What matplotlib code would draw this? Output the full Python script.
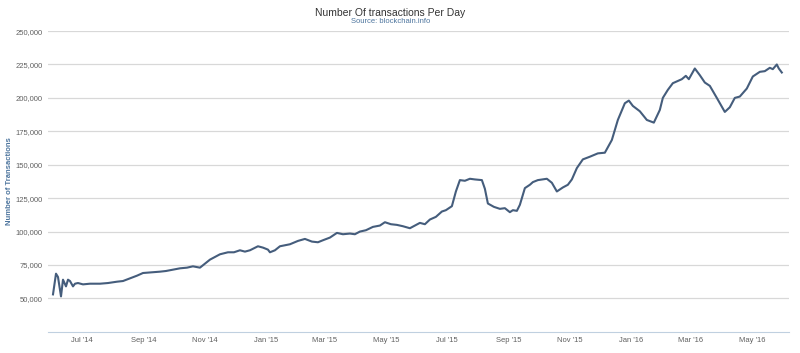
import pandas as pd
import matplotlib.pyplot as plt
import matplotlib.dates as mdates
from matplotlib.ticker import FuncFormatter

plt.rcParams['font.family'] = ['Liberation Sans', 'DejaVu Sans']

# Transactions per day
dates = [
    "2014-06-02", "2014-06-05", "2014-06-07", "2014-06-10", "2014-06-12", "2014-06-15",
    "2014-06-17", "2014-06-19", "2014-06-22", "2014-06-24", "2014-06-27", "2014-07-02",
    "2014-07-09", "2014-07-19", "2014-07-27", "2014-08-05", "2014-08-11", "2014-08-18",
    "2014-08-25", "2014-08-31", "2014-09-09", "2014-09-17", "2014-09-23", "2014-09-30",
    "2014-10-07", "2014-10-14", "2014-10-20", "2014-10-27", "2014-11-01", "2014-11-06",
    "2014-11-11", "2014-11-16", "2014-11-24", "2014-11-30", "2014-12-06", "2014-12-11",
    "2014-12-16", "2014-12-24", "2014-12-29", "2015-01-03", "2015-01-05", "2015-01-10",
    "2015-01-15", "2015-01-25", "2015-02-02", "2015-02-09", "2015-02-16", "2015-02-22",
    "2015-02-27", "2015-03-06", "2015-03-13", "2015-03-19", "2015-03-26", "2015-03-31",
    "2015-04-05", "2015-04-11", "2015-04-18", "2015-04-25", "2015-04-30", "2015-05-06",
    "2015-05-12", "2015-05-18", "2015-05-25", "2015-06-04", "2015-06-09", "2015-06-14",
    "2015-06-20", "2015-06-26", "2015-06-30", "2015-07-06", "2015-07-10", "2015-07-14",
    "2015-07-19", "2015-07-24", "2015-07-29", "2015-08-05", "2015-08-08", "2015-08-11",
    "2015-08-17", "2015-08-23", "2015-08-28", "2015-09-02", "2015-09-05", "2015-09-09",
    "2015-09-12", "2015-09-17", "2015-09-22", "2015-09-25", "2015-09-30", "2015-10-09",
    "2015-10-14", "2015-10-19", "2015-10-25", "2015-10-30", "2015-11-03", "2015-11-08",
    "2015-11-14", "2015-11-21", "2015-11-29", "2015-12-06", "2015-12-13", "2015-12-19",
    "2015-12-26", "2015-12-30", "2016-01-03", "2016-01-10", "2016-01-17", "2016-01-24",
    "2016-01-30", "2016-02-02", "2016-02-07", "2016-02-12", "2016-02-21", "2016-02-25",
    "2016-02-28", "2016-03-05", "2016-03-10", "2016-03-15", "2016-03-20", "2016-03-27",
    "2016-04-04", "2016-04-09", "2016-04-14", "2016-04-19", "2016-04-26", "2016-05-02",
    "2016-05-09", "2016-05-14", "2016-05-19", "2016-05-22", "2016-05-26", "2016-05-28",
    "2016-05-31",
]
transactions = [
    53000, 68500, 66000, 51500, 64000, 59000,
    64000, 63000, 59000, 61000, 61500, 60500,
    61000, 61000, 61500, 62500, 63000, 65000,
    67000, 69000, 69500, 70000, 70500, 71500,
    72500, 73000, 74000, 73000, 76000, 79000,
    81000, 83000, 84500, 84500, 86000, 85000,
    86000, 89000, 88000, 86500, 84500, 86000,
    89000, 90500, 93000, 94500, 92500, 92000,
    93500, 95500, 99000, 98000, 98500, 98000,
    100000, 101000, 103500, 104500, 107000, 105500,
    105000, 104000, 102500, 106500, 105500, 109000,
    111000, 115000, 116000, 119000, 130000, 138500,
    138000, 139500, 139000, 138500, 132000, 121000,
    118500, 117000, 117500, 114500, 116000, 115500,
    120000, 132500, 135000, 137000, 138500, 139500,
    136500, 130000, 133000, 135000, 139000, 147500,
    154000, 156000, 158500, 159000, 168500, 183500,
    196000, 198000, 194000, 190000, 183500, 181500,
    191000, 200000, 206000, 211000, 214000, 216500,
    214000, 222000, 217000, 211500, 209000, 200000,
    189500, 193000, 200000, 201000, 207000, 216000,
    219500, 220000, 222500, 221500, 225000, 222000,
    219000,
]

df = pd.DataFrame({"date": pd.to_datetime(dates), "tx": transactions})

fig = plt.figure(figsize=(8, 3.53), dpi=100)
ax = fig.add_axes([0.06, 0.06, 0.926, 0.852])

ax.plot(df["date"], df["tx"], color="#455d7c", linewidth=1.5)

ax.set_xlim(pd.Timestamp("2014-05-28"), pd.Timestamp("2016-06-07"))
ax.set_ylim(25000, 250000)
ax.set_yticks(range(50000, 250001, 25000))
ax.yaxis.set_major_formatter(FuncFormatter(lambda v, p: f"{int(v):,}"))

ax.xaxis.set_major_locator(mdates.MonthLocator(bymonth=[1, 3, 5, 7, 9, 11]))
ax.xaxis.set_major_formatter(mdates.DateFormatter("%b '%y"))

ax.grid(axis="y", color="#d8d8d8", linewidth=0.9)
ax.set_axisbelow(True)
for s in ["top", "right", "left"]:
    ax.spines[s].set_visible(False)
ax.spines["bottom"].set_color("#c0d0e0")
ax.tick_params(axis="both", length=0, labelsize=5.5, labelcolor="#606060")
ax.tick_params(axis="x", pad=4)
ax.tick_params(axis="y", pad=4)

# y axis title placed on the figure so it is not clipped
fig.text(0.012, 0.487, "Number of Transactions", rotation=90, ha="center", va="center",
         fontsize=5.5, color="#4d759e", fontweight="bold")

fig.text(0.488, 0.964, "Number Of transactions Per Day", ha="center", va="center",
         fontsize=7.5, color="#333333")
fig.text(0.488, 0.938, "Source: blockchain.info", ha="center", va="center",
         fontsize=5.5, color="#4d759e")

fig.savefig("out.png", dpi=100)
